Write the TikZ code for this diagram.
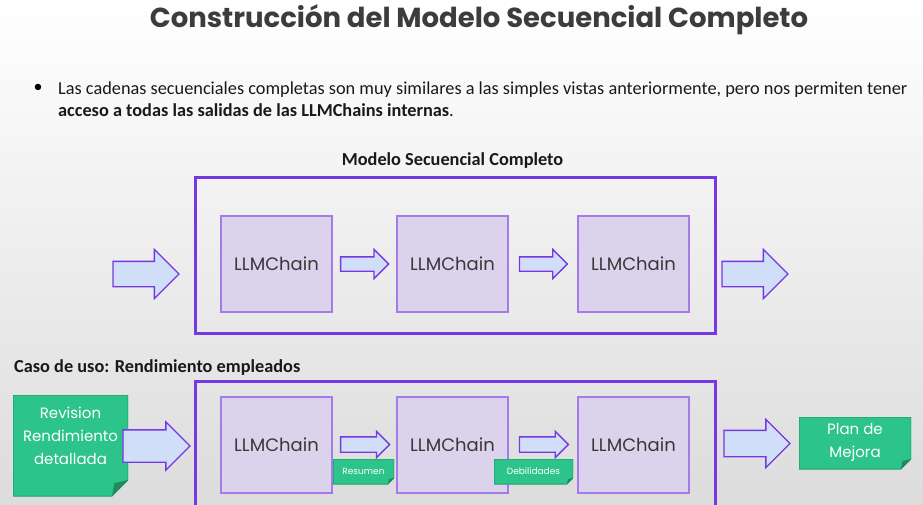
\documentclass[tikz,border=0pt]{standalone}
\usepackage{fontspec}
\setmainfont{Carlito}
\newfontfamily\geofont{Poppins}
\usetikzlibrary{shapes.arrows,calc}

\definecolor{framecol}{RGB}{118,56,226}
\definecolor{chainfill}{RGB}{218,211,235}
\definecolor{chainline}{RGB}{166,122,232}
\definecolor{arrowfill}{RGB}{208,222,248}
\definecolor{tagfill}{RGB}{44,196,138}
\definecolor{tagline}{RGB}{32,160,110}
\definecolor{tagfold}{RGB}{30,138,94}
\definecolor{titlecol}{RGB}{60,60,60}

% multi-line label, lifted by #1 above the node centre
\newcommand\liftedlines[2]{\raisebox{#1}[0pt][0pt]{\begin{tabular}{@{}c@{}}#2\end{tabular}}}

\tikzset{
  outerframe/.style={draw=framecol, line width=3pt},
  chain/.style={draw=chainline, line width=1.2pt, fill=chainfill,
    minimum width=111pt, minimum height=96pt, inner sep=0pt,
    font=\geofont\fontsize{18}{22}\selectfont, text=black!78},
  blockarrow/.style n args={3}{single arrow, draw=framecol, line width=1.3pt,
    fill=arrowfill, inner sep=0pt, inner ysep=#2/2, outer sep=0pt,
    single arrow head extend=#3, minimum height=#1, single arrow tip angle=90,
    anchor=tail},
  paper/.style={inner sep=0pt, text=white, align=center,
    path picture={
      \filldraw[fill=tagfill, draw=tagline, line width=1pt]
        (path picture bounding box.north west) -- (path picture bounding box.north east)
        -- ([yshift=#1]path picture bounding box.south east)
        -- ([xshift=-#1]path picture bounding box.south east)
        -- (path picture bounding box.south west) -- cycle;
      \fill[tagfold]
        ([yshift=#1]path picture bounding box.south east)
        -- ([xshift=-#1]path picture bounding box.south east)
        -- ([xshift=-0.85*#1, yshift=0.8*#1]path picture bounding box.south east) -- cycle;
    }},
  heading/.style={font=\bfseries\fontsize{18.3}{22}\selectfont, text=black!90},
}

\begin{document}
\begin{tikzpicture}[x=1pt, y=1pt]
  \useasboundingbox (0,0) rectangle (923,504);
  \clip (0,0) rectangle (923,504);
  \shade[top color=white, bottom color={rgb,255:red,220;green,220;blue,220}]
    (0,0) rectangle (923,504);

  % title and bullet text
  \node[font=\geofont\bfseries\fontsize{27.5}{32}\selectfont, text=titlecol]
    (title) at (479,484) {Construcción del Modelo Secuencial Completo};
  \node[font=\fontsize{18}{20}\selectfont] (bullet) at (38,416) {\textbullet};
  \node[anchor=west, align=left, inner sep=0pt,
        font=\fontsize{18.3}{22}\selectfont, text=black!90] (intro) at (58,405)
    {Las cadenas secuenciales completas son muy similares a las simples vistas anteriormente, pero nos permiten tener\\
     \textbf{acceso a todas las salidas de las LLMChains internas}.};

  % ---- full sequential model ----
  \node[heading] (topcap) at (452.5,343) {Modelo Secuencial Completo};
  \draw[outerframe] (195,326) rectangle (715,171);
  \node[chain] (a1) at (276.5,240) {LLMChain};
  \node[chain] (a2) at (452.5,240) {LLMChain};
  \node[chain] (a3) at (633.5,240) {LLMChain};
  \node[blockarrow={66pt}{24pt}{12pt}] (ain) at (113,230) {};
  \node[blockarrow={48pt}{13pt}{7.5pt}] (a12) at ([xshift=8pt]a1.east) {};
  \node[blockarrow={48pt}{13pt}{7.5pt}] (a23) at ([xshift=-58pt]a3.west) {};
  \node[blockarrow={66pt}{24pt}{12pt}] (aout) at (722,230) {};

  % ---- use case: employee performance ----
  \node[heading, anchor=west, inner sep=0pt] (usecap) at (14,136)
    {Caso de uso: Rendimiento empleados};
  \draw[outerframe] (195,123) rectangle (715,-20);
  \node[chain] (b1) at (276.5,59) {LLMChain};
  \node[chain] (b2) at (452.5,59) {LLMChain};
  \node[chain] (b3) at (633.5,59) {LLMChain};

  \node[paper=16pt, minimum width=115pt, minimum height=101pt,
        font=\geofont\fontsize{15}{23}\selectfont] (review) at (70.5,58.5)
    {\liftedlines{5pt}{Revision\\Rendimiento\\detallada}};
  \node[blockarrow={67pt}{31pt}{8pt}] (bin) at (123,58) {};
  \node[blockarrow={49pt}{14pt}{5.5pt}] (b12) at ([xshift=8pt,yshift=0.5pt]b1.east) {};
  \node[blockarrow={49pt}{14pt}{5.5pt}] (b23) at ([xshift=-58pt,yshift=0.5pt]b3.west) {};
  \node[blockarrow={66pt}{25pt}{11pt}] (bout) at (724,60.5) {};
  \node[paper=10pt, minimum width=112pt, minimum height=52pt,
        font=\geofont\fontsize{15}{23}\selectfont] (plan) at (855,61)
    {\liftedlines{-1.5pt}{Plan de\\Mejora}};

  \node[paper=6pt, minimum width=61pt, minimum height=25pt,
        font=\geofont\fontsize{9}{11}\selectfont] (resumen) at (363.5,32.5) {Resumen};
  \node[paper=6pt, minimum width=79pt, minimum height=25pt,
        font=\geofont\fontsize{9}{11}\selectfont] (debil) at (533.5,32.5) {Debilidades};
\end{tikzpicture}
\end{document}
